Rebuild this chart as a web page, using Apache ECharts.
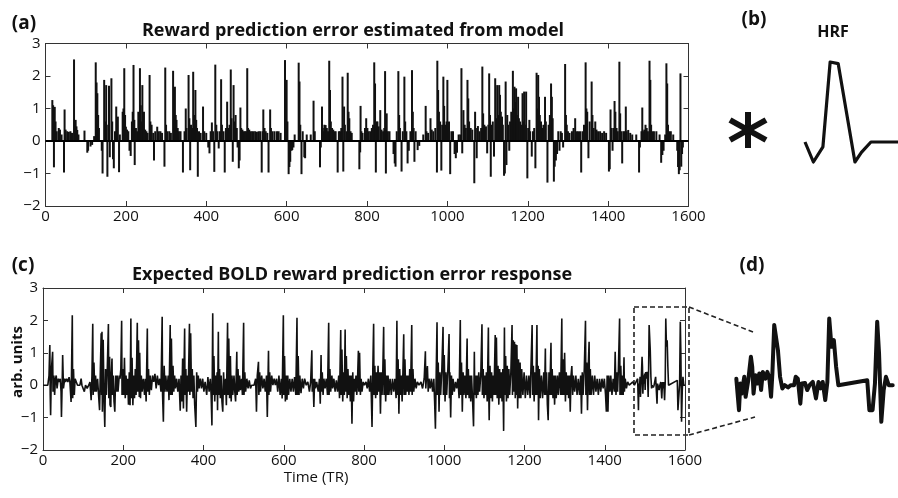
<!DOCTYPE html>
<html>
<head>
<meta charset="utf-8">
<script src="https://cdn.jsdelivr.net/npm/echarts@6/dist/echarts.min.js"></script>
<style>
html,body{margin:0;padding:0;background:#fff;}
#chart{width:898px;height:498px;}
</style>
</head>
<body>
<div id="chart"></div>
<script>
// ---- Data ----
// (a) reward prediction error: [TR, value]
const rpeData = [
[17,1.26],[19,1.1],[21,-0.81],[23,1.05],[25,0.6],[28,0.3],[33,0.4],[36,0.35],[40,0.2],[46,-0.97],[47.5,0.97],[50,0.35],[54,0.3],[58,0.28],[62,0.3],[66,0.25],[71,2.51],[73,0.6],[75,0.65],[77,0.45],[79,0.34],[82,0.2],[97,0.32],[104,-0.36],[106,-0.3],[112,-0.17],[116,-0.12],[121,0.15],[125,2.42],[127,1.8],[129,1.47],[131,0.8],[133,0.4],[140,-0.3],[142,-1.0],[146,1.88],[148,0.6],[151,1.72],[154,-1.1],[156,0.5],[158,1.7],[160,-0.5],[164,1.93],[166,0.6],[168,-0.56],[170,-0.84],[173,0.3],[176,1.06],[178,0.5],[180,0.75],[183,-0.96],[185,0.2],[192,0.9],[194,1.0],[196,2.24],[198,0.8],[200,0.44],[203,0.35],[206,0.3],[209,-0.3],[212,-0.46],[215,0.6],[217,0.9],[219,2.34],[221,0.65],[222,-0.74],[225,0.4],[228,0.3],[231,0.9],[233,0.7],[235,2.24],[237,1.1],[239,0.6],[241,1.72],[243,0.5],[245,0.9],[248,0.35],[251,0.3],[254,0.25],[259,2.03],[261,0.6],[264,0.5],[268,0.25],[270,-0.6],[273,0.3],[278,0.44],[282,0.3],[286,0.3],[290,0.25],[296,-0.79],[298,2.26],[300,0.5],[303,0.3],[308,0.3],[312,0.25],[317.5,2.16],[320,0.6],[322,1.67],[324,0.8],[326,0.65],[329,0.4],[332,0.3],[336,0.3],[342,-0.97],[346,0.3],[349,1.0],[351,0.4],[356,2.03],[358,0.7],[360,-0.9],[362,0.5],[365,0.4],[367.5,2.13],[370,0.8],[373,1.57],[375,0.65],[377,0.4],[379,-1.1],[382,0.3],[386,0.25],[392,1.06],[395,0.3],[400,0.25],[405,-0.2],[408,-0.38],[411,0.3],[414,0.57],[417,0.3],[420,-0.95],[422.5,2.35],[425,0.5],[428,0.3],[431,-0.23],[434,0.3],[437,1.9],[439,0.5],[443,0.3],[446,-0.97],[449,0.4],[452,1.21],[455,0.4],[458,0.5],[461,2.2],[463,0.7],[466,-0.64],[468,1.72],[470,0.6],[473,0.8],[476,0.4],[478,-0.2],[481,-0.84],[483,-0.6],[485,1.03],[487,0.4],[490,0.35],[493,0.3],[496,0.3],[499,0.3],[502,2.24],[504,0.4],[507,0.35],[510,0.3],
[514,0.3],[518,0.3],[522,0.3],[526,0.28],[530,0.3],[534,0.3],[538,-0.97],[540,0.3],[542,0.97],[545,0.4],[548,0.3],[552,0.25],[555,-0.97],[559,0.97],[561,0.4],[565,0.3],[570,0.3],[576,0.3],[580,0.3],[585,0.25],[596,2.49],[598,1.2],[600,1.88],[602,0.6],[605,-1.02],[607,-0.8],[609,-0.64],[612,-0.3],[614,-0.28],[617,-0.2],[620,0.2],[630,2.41],[632,1.83],[634,0.5],[637,-1.02],[640,0.3],[644,-0.5],[646,-0.53],[650,0.2],[660,0.2],[667,1.24],[670,0.3],[683,-0.81],[685,-0.2],[688,1.06],[690,0.4],[692,0.3],[694,0.5],[697,0.49],[700,0.4],[703,0.3],[706,2.47],[708,1.57],[710,0.6],[713,0.4],[716,0.35],[719,0.3],[722,0.3],[727,-0.97],[730,0.3],[733,0.3],[736,0.4],[739,1.98],[741,-0.94],[743,1.06],[745,0.5],[749,0.3],[752,2.1],[754,0.9],[756,0.7],[759,0.3],[762,0.25],[781,-0.87],[783,-0.35],[784,1.08],[786,0.3],[789,0.25],[795,0.4],[798,0.7],[801,0.4],[804,0.3],[808,0.3],[812,0.4],[815,0.5],[818,2.42],[820,1.77],[822,-0.97],[824,0.6],[826,0.6],[829,0.45],[833,0.95],[836,0.35],[840,0.3],[843,0.4],[845,2.15],[847,-1.0],[849,0.85],[852,0.3],[856,0.3],[866,-0.4],[869,-0.69],[871,-0.79],[874,0.3],[878,2.15],[880,0.8],[882,0.4],[886,-0.94],[889,0.3],[893,1.98],[895,0.6],[898,0.3],[901,-0.69],[904,-0.3],[908,0.3],[912,2.18],[914,0.9],[916,0.4],[918,-0.64],[921,0.3],[926,-0.28],[930,-0.15],[940,0.2],[946,1.08],[948,0.3],[952,0.25],[958,0.7],[961,0.35],[965,0.3],[970,0.4],[974,-0.97],[975,2.47],[977,1.57],[979,0.9],[982,0.6],[985,-0.91],[987,0.5],[990,1.98],[992,1.08],[995,0.5],[998,0.6],[1000,1.88],[1002,0.4],[1004,0.6],[1007,-1.02],[1010,0.3],[1014,0.3],[1018,-0.4],[1021,-0.53],[1024,-0.36],[1028,0.2],
[1032,0.2],[1035,2.24],[1037,-0.38],[1040,0.95],[1043,0.5],[1046,0.4],[1050,1.88],[1052,1.31],[1054,0.6],[1058,0.4],[1062,0.35],[1067,-1.3],[1069,0.9],[1071,0.4],[1073,-0.53],[1076,0.46],[1080,0.3],[1084,0.4],[1087,2.29],[1089,0.85],[1092,0.5],[1096,0.45],[1099,-0.38],[1102,0.5],[1104,2.08],[1106,0.8],[1108,-1.1],[1110,0.5],[1113,0.6],[1116,-0.48],[1119,1.93],[1121,0.7],[1124,1.72],[1126,0.8],[1129,1.72],[1131,1.42],[1133,0.9],[1136,0.75],[1138,0.5],[1141,-1.07],[1143,-1.0],[1145,1.83],[1147,-0.74],[1149,0.8],[1151,0.5],[1154,-0.3],[1156,0.6],[1159,0.9],[1163,2.16],[1165,1.0],[1167,1.67],[1169,1.2],[1171,1.62],[1173,0.8],[1176,1.36],[1178,0.7],[1181,0.6],[1184,0.5],[1187,1.47],[1189,0.6],[1191,1.52],[1193,0.5],[1196,1.52],[1199,-1.15],[1201,0.4],[1204,0.65],[1206,0.3],[1210,-0.48],[1213,0.3],[1216,0.4],[1219,-0.84],[1222,2.1],[1224,1.0],[1226,2.03],[1228,1.36],[1230,0.8],[1233,0.6],[1236,0.4],[1239,0.5],[1243,1.36],[1245,0.6],[1249,-1.28],[1252,0.5],[1255,0.8],[1258,1.77],[1260,1.36],[1262,0.7],[1265,-1.25],[1267,-0.79],[1270,-0.6],[1273,-0.4],[1276,0.3],[1279,-0.3],[1282,0.3],[1285,0.25],[1288,-0.2],[1293,2.37],[1295,0.8],[1297,0.5],[1300,0.3],[1304,0.25],[1310,0.3],[1314,0.4],[1318,0.7],[1321,0.3],[1325,0.3],[1330,0.3],[1333,-0.97],[1336,0.3],[1340,0.5],[1344,2.42],[1346,1.0],[1348,0.9],[1351,-0.53],[1354,0.6],[1359,1.83],[1361,0.8],[1364,0.4],[1368,0.6],[1371,0.35],[1375,0.3],[1380,0.3],[1385,0.25],[1390,0.3],[1395,0.25],[1402,-0.94],[1404,-0.87],[1406,0.97],[1408,0.4],[1411,-0.3],[1413,0.4],[1416,1.23],[1418,0.9],[1421,0.4],[1424,0.3],[1428,2.44],[1430,0.85],[1433,0.3],[1435,-0.69],[1438,0.3],[1441,0.3],[1444,1.06],[1446,0.3],[1450,0.34],[1455,0.25],[1460,0.2],[1470,0.2],[1477,-0.97],[1479,-0.2],[1483,0.3],[1485,1.03],[1487,0.3],[1490,0.35],[1493,0.5],[1496,0.4],[1499,0.3],[1503,2.47],[1505,1.88],[1507,0.5],[1510,0.3],[1514,0.3],[1520,0.3],[1528,0.2],[1532,-0.67],[1535,-0.43],[1538,-0.3],[1542,0.2],[1545,2.39],[1547,1.77],[1549,0.5],[1552,0.3],[1556,0.3],[1562,0.2],[1572,-0.3],[1574,-0.8],[1576,-1.02],[1578,-0.9],[1580,2.08],[1582,-0.79],[1584,-0.4],[1586,-0.2]
];

// (c)/(d) expected BOLD response: [TR, arb. units]
const boldData = [
[0,0],[12,0],[15,0.3],[17,1.24],[18,-0.3],[19,-0.93],[21,0.5],[24,1.03],[25,-0.2],[27,0.3],[29,-0.3],[31,0.2],[33,0.3],[35,-0.1],[38,0.2],[40,0.1],[43,0.2],[45,-0.2],[46,-0.98],[48,0.2],[49,0.93],[51,-0.1],[54,0.2],[56,0.1],[59,0.2],[62,0.1],[65,0.25],[67,0.1],[70,-0.52],[71,0.3],[73,2.16],[74,-0.4],[76,0.5],[78,-0.3],[80,0.2],[83,0.1],[86,0],[92,0],[95,0.2],[97,0],[100,-0.1],[103,-0.2],[106,0],[110,-0.1],[114,0],[117,0.1],[120,-0.46],[122,0.3],[124,1.9],[125,-0.3],[127,0.7],[129,-0.2],[131,0.3],[133,-0.2],[136,0.2],[139,-0.4],[141,-0.77],[143,0.5],[145,1.6],[146,-0.3],[147,1.65],[148,-0.82],[150,1.4],[152,-0.4],[154,-1.29],[156,0.5],[158,-0.3],[160,0.4],[163,1.89],[164,-0.4],[166,0.88],[167,-0.6],[169,-0.67],[170,0.3],[172,0.82],[173,-0.3],[175,0.3],[177,-0.5],[179,-0.82],[181,0.3],[183,-0.2],[185,0.3],[187,-0.2],[190,0.3],[192,0.2],[194,0.5],[196,1.99],[197,-0.3],[199,0.5],[201,-0.3],[203,0.85],[205,-0.4],[207,0.3],[209,-0.3],[211,0.2],[213,-0.6],[215,0.4],[217,-0.62],[219,2.06],[220,-0.4],[222,0.85],[224,-0.62],[226,0.3],[228,-0.4],[230,0.5],[232,-0.3],[235,1.93],[236,-0.2],[238,1.39],[240,-0.36],[241,1.0],[243,-0.4],[245,0.3],[247,-0.2],[250,0.2],[253,-0.3],[255,0.2],[257,-0.5],[260,1.75],[261,-0.2],[263,0.5],[265,-0.3],[267,0.3],[270,-0.15],[273,0.3],[276,0.1],[279,0.35],[282,-0.1],[285,0.3],[288,0],[291,0.2],[294,-0.2],[297,2.11],[298,-0.3],[300,-1.13],[302,0.6],[304,-0.2],[306,0.3],[309,-0.2],[312,0.3],[314,-0.46],[317,1.86],[318,-0.3],[320,1.44],[322,-0.3],[324,0.6],[326,-0.2],[328,0.3],[330,-0.1],[333,0.2],[336,-0.2],[339,0.2],[342,-0.79],[344,0.3],[346,-0.5],[348,0.82],[350,-0.72],[353,1.75],[354,-0.3],[356,0.5],[358,-0.82],[360,0.3],[362,-0.2],[365,1.9],[366,-0.3],[368,1.6],[370,-0.2],[372,0.5],[374,-0.4],[376,0.3],[378,-0.6],[381,-1.29],[383,0.4],[385,-0.2],[387,0.3],[389,-0.1],[392,0.2],[395,-0.1],[398,0.2],[401,-0.2],[404,0.1],[408,-0.3],[411,0.25],[414,-0.2],[417,0.2],[419,-0.3],[421,-1.24],[423,2.22],[424,-0.3],[426,0.9],[428,-0.5],[430,0.3],[432,-0.3],[434,0.4],[435,-0.77],[437,1.65],[438,-0.3],[440,0.5],[442,-0.4],[444,0.3],[446,-0.5],[448,-0.82],[450,0.4],[452,-0.3],[455,0.2],[457,-0.62],[460,1.93],[461,-0.3],[463,1.44],[465,-0.4],[467,0.9],[469,-0.5],[471,0.3],[473,-0.3],[476,0.3],[478,-0.2],[480,-0.5],[483,1.03],[484,-0.3],[486,0.5],[488,-0.2],[490,0.3],[492,-0.15],[495,0.2],[497,-0.3],[500,1.93],[501,-0.3],[503,0.4],[505,-0.2],[508,0.2],[511,-0.1],[514,0.15],[517,-0.1],[520,0],[526,0],[530,0.2],[532,-0.82],[534,0.3],[537,0.72],[538,-0.3],[540,0.4],[542,-0.2],[545,0.3],[548,-0.1],[551,0.2],[554,-0.2],[557,0.3],[559,-0.98],[562,1.06],[563,-0.3],[565,0.4],[567,-0.2],[570,0.3],[573,0],[576,0.2],[579,0],[582,0.2],[585,-0.2],[588,0.3],[591,-0.3],[594,0.2],[596,-0.41],[599,2.16],[600,-0.3],[602,0.9],[604,-0.5],[606,0.3],[608,-0.45],[610,0.3],[612,-0.3],[615,0.2],[618,-0.2],[621,0.2],[624,-0.2],[627,0.25],[630,-0.3],[633,2.08],[634,-0.3],[636,0.9],[638,-0.3],[640,0.3],[643,-0.25],[646,0.2],[649,-0.1],[652,0.2],[656,0],[660,0.1],[664,-0.2],[667,0.1],[670,1.08],[671,-0.2],[673,0.2],[675,-0.67],[677,0.2],[679,-0.1],[682,0.1],[686,-0.2],[689,0.2],[691,-0.57],[693,0.93],[694,-0.2],[696,0.4],[698,-0.3],[700,0.2],[703,-0.1],[706,0.2],[709,-0.3],[712,1.93],[713,-0.3],[715,0.5],[717,-0.2],[720,0.3],[722,-0.1],[725,0.2],[728,-0.2],[731,0.15],[734,-0.2],[737,0.3],[739,-0.4],[742,1.7],[743,-0.3],[745,1.1],[747,-0.5],[749,0.4],[751,-0.3],[753,1.72],[754,-0.2],[756,0.9],[758,-0.4],[760,0.5],[762,-0.3],[764,0.3],[766,-0.5],[768,0.3],[770,-1.19],[772,0.4],[774,-0.5],[776,0.2],[778,-0.2],[780,0.3],[782,-0.3],[784,0.2],[786,1.06],[787,-0.2],[789,1.0],[791,-0.3],[793,0.2],[795,-0.2],[798,0.1],[801,0],[805,0.1],[808,-0.1],[811,0.2],[814,-0.2],[817,0.3],[820,-1.29],[822,0.5],[824,1.9],[825,-0.3],[827,0.6],[829,-0.4],[831,0.4],[833,-0.3],[835,0.6],[837,-0.2],[839,0.4],[841,-0.88],[843,0.4],[845,-0.3],[847,0.5],[849,1.8],[850,-0.3],[852,0.8],[854,-0.5],[856,0.3],[858,-0.3],[860,0.3],[862,-0.3],[865,0.2],[868,-0.3],[871,0.2],[874,-0.2],[877,0.2],[880,-0.4],[882,1.99],[883,-0.3],[885,0.8],[887,-0.88],[889,0.5],[891,-0.3],[893,0.3],[895,-0.5],[897,0.4],[899,1.57],[900,-0.3],[902,0.8],[904,-0.3],[906,0.3],[908,-0.2],[910,0.3],[912,-0.3],[914,0.5],[916,-0.2],[919,1.86],[920,-0.3],[922,0.5],[924,-0.2],[927,0.2],[930,-0.1],[933,0.1],[937,0],[942,0.1],[946,-0.1],[950,0.2],[953,1.05],[954,-0.1],[956,0.3],[958,0.59],[960,-0.2],[962,0.2],[965,-0.1],[968,0.2],[971,-0.2],[974,0.2],[976,-0.5],[978,-1.34],[980,0.4],[982,1.94],[983,-0.3],[985,0.7],[987,-0.82],[989,0.4],[991,-0.3],[994,0.5],[997,1.8],[998,-0.3],[1000,0.93],[1002,-0.5],[1004,0.4],[1006,-0.3],[1009,0.5],[1012,1.58],[1013,-0.4],[1014,0.4],[1016,-1.0],[1018,0.3],[1020,-0.3],[1022,0.2],[1025,-0.2],[1028,0.1],[1031,-0.1],[1034,0.2],[1037,-0.4],[1040,2.01],[1041,-0.3],[1043,0.7],[1045,-0.82],[1047,0.4],[1049,-0.3],[1051,0.3],[1054,-0.4],[1057,1.44],[1058,-0.3],[1060,0.5],[1062,-0.4],[1064,0.3],[1066,-0.5],[1068,0.3],[1071,-0.6],[1073,-1.27],[1075,1.03],[1076,-0.3],[1078,0.3],[1080,-0.4],[1082,0.3],[1084,-0.3],[1086,0.4],[1088,-0.2],[1091,0.3],[1094,1.88],[1095,-0.3],[1097,0.5],[1099,-0.4],[1101,0.3],[1103,-0.3],[1105,0.4],[1107,-0.5],[1110,1.78],[1111,-0.3],[1112,-1.08],[1114,0.6],[1116,-0.4],[1118,0.4],[1120,-0.5],[1122,0.3],[1124,-0.3],[1127,1.55],[1128,-0.3],[1130,1.47],[1132,-0.4],[1134,0.6],[1136,-0.6],[1138,0.5],[1140,-0.4],[1142,0.4],[1144,-0.5],[1146,0.5],[1148,-1.41],[1150,1.78],[1151,-0.3],[1153,0.9],[1155,-0.5],[1157,0.6],[1159,-0.4],[1161,0.5],[1163,-0.3],[1166,0.4],[1169,1.86],[1170,-0.3],[1172,1.39],[1173,-0.2],[1175,1.34],[1177,-0.4],[1178,1.26],[1180,-0.3],[1181,1.24],[1183,-0.72],[1185,0.8],[1187,-0.4],[1189,0.7],[1191,-0.4],[1193,0.5],[1196,-0.3],[1199,0.4],[1202,-0.4],[1205,0.3],[1208,-0.3],[1211,0.3],[1214,-0.4],[1216,0.5],[1219,1.86],[1220,-0.3],[1222,0.6],[1224,-0.5],[1226,0.4],[1228,-0.3],[1231,1.86],[1232,-0.3],[1234,0.6],[1235,-1.08],[1237,0.5],[1239,-0.4],[1242,0.3],[1245,-0.4],[1248,0.4],[1250,-0.3],[1252,1.13],[1253,-0.3],[1255,0.4],[1257,-0.6],[1259,-1.08],[1261,0.4],[1263,-0.3],[1266,1.31],[1267,-0.3],[1269,0.5],[1271,-0.4],[1273,0.3],[1275,-0.6],[1277,0.3],[1279,-0.4],[1282,0.3],[1284,-0.3],[1287,0.4],[1290,-0.3],[1293,2.06],[1294,-0.3],[1296,0.8],[1298,-0.3],[1300,1.0],[1302,-0.5],[1304,0.4],[1306,-0.3],[1308,0.3],[1310,-0.4],[1312,0.3],[1314,-0.82],[1316,0.3],[1318,0.59],[1320,-0.3],[1322,0.3],[1325,-0.2],[1328,0.3],[1331,-0.3],[1334,0.2],[1337,-0.3],[1340,0.3],[1342,-0.88],[1344,0.4],[1346,-0.3],[1349,0.5],[1352,1.99],[1353,-0.3],[1355,0.7],[1357,-0.77],[1359,0.6],[1361,1.34],[1362,-0.3],[1364,0.5],[1366,-0.3],[1369,0.3],[1372,-0.3],[1375,0.3],[1378,-0.2],[1381,0.2],[1384,-0.3],[1387,0.2],[1390,-0.2],[1393,0.2],[1396,-0.1],[1399,0.2],[1402,-0.3],[1404,-0.82],[1406,0.3],[1408,-0.82],[1410,0.3],[1413,-0.2],[1415,0.3],[1418,-0.3],[1421,0.2],[1424,-0.2],[1426,1.03],[1428,-0.3],[1430,0.4],[1432,-0.2],[1434,0.5],[1437,2.06],[1438,-0.3],[1440,0.6],[1442,-0.3],[1444,0.3],[1446,-0.3],[1448,0.86],[1449,-0.2],[1451,0.2],[1454,-0.1],[1457,0.1],[1461,0],[1465,0],[1470,0.1],[1474,0],[1478,0.1],
[1482,0.2],[1484,-0.77],[1485,0.05],[1486,-0.26],[1488,0.26],[1489,-0.36],[1491,0.15],[1493,0.88],[1494,0.57],[1495,-0.26],[1496.5,0.31],[1498,0.05],[1499.3,0.36],[1500.7,-0.15],[1502,0.41],[1504,0.2],[1505.4,0.41],[1506.8,0.25],[1508.2,-0.36],[1509.2,0.36],[1510.6,1.86],[1512,1.9],[1513.4,1.08],[1515,0.26],[1516.7,-0.1],[1518.5,0],[1521,-0.07],[1523,0],[1525.6,0],[1526.8,0.26],[1528.4,0.2],[1530.3,-0.57],[1531.5,0.05],[1533.8,0.07],[1535.5,-0.15],[1537.3,0],[1539.7,0.1],[1542.1,-0.41],[1544,0.1],[1545.6,-0.1],[1547.2,0.1],[1549.1,-0.46],[1550.7,0.1],[1552.1,2.06],[1553.8,1.19],[1555.6,1.39],[1557.3,0.57],[1559,0],[1580.8,0.15],[1582.4,-0.77],[1584.8,-0.77],[1586.6,0.05],[1588.3,1.96],[1589.7,0.98],[1591.4,-1.13],[1593.2,-0.15],[1594.9,0.26],[1597,0],[1600,0]
];

// (b) haemodynamic response function
const hrfTime  = [0, 2.2, 4.7, 6.6, 8.7, 13.1, 14.8, 17.3, 24.4];
const hrfValue = [0, -0.25, -0.06, 1.0, 0.98, -0.25, -0.13, 0, 0];

// axis ticks
const xMin = 0, xMax = 1600, xStep = 200;
const yMin = -2, yMax = 3, yStep = 1;
const zoomStart = 1482;

// ---- Chart ----
const FONT = 'Open Sans';
const axisCol = '#333';
const minusFmt = v => String(v).replace('-', '\u2212');
const plainFmt = v => String(v);

function frameX(grid, pos, labels) {
  return {
    type: 'value', gridIndex: grid, position: pos, min: xMin, max: xMax, interval: xStep,
    axisLine: {show: true, onZero: false, lineStyle: {color: axisCol, width: 1}},
    axisTick: {show: true, inside: true, length: 5, lineStyle: {color: axisCol}},
    splitLine: {show: false},
    axisLabel: {show: labels, color: '#111', fontSize: 15, fontFamily: FONT, margin: 3, formatter: plainFmt}
  };
}
function frameY(grid, pos, labels) {
  return {
    type: 'value', gridIndex: grid, position: pos, min: yMin, max: yMax, interval: yStep,
    axisLine: {show: true, onZero: false, lineStyle: {color: axisCol, width: 1}},
    axisTick: {show: true, inside: true, length: 5, lineStyle: {color: axisCol}},
    splitLine: {show: false},
    axisLabel: {show: labels, color: '#111', fontSize: 15, fontFamily: FONT, margin: 5, formatter: minusFmt}
  };
}

const chart = echarts.init(document.getElementById('chart'), null, {renderer: 'canvas'});

const hrfData = hrfTime.map((t, i) => [t, hrfValue[i]]);
const zoomData = boldData.filter(p => p[0] >= zoomStart);

const txt = (x, y, s, size, weight, extra) => Object.assign({
  type: 'text', x: x, y: y, silent: true,
  style: {text: s, fill: '#111', font: `${weight} ${size}px "${FONT}"`, textAlign: 'center', textVerticalAlign: 'middle'}
}, extra || {});

const dash = {stroke: '#222', lineWidth: 1.6, lineDash: [5, 3], fill: null};

chart.setOption({
  animation: false,
  backgroundColor: '#fff',
  grid: [
    {left: 45.5, top: 43.5, width: 643, height: 162.5},
    {left: 43, top: 288, width: 642, height: 162},
    {left: 735, top: 288, width: 175, height: 162},
    {left: 805, top: 62, width: 94, height: 100}
  ],
  xAxis: [
    frameX(0, 'bottom', true), frameX(0, 'top', false),
    frameX(1, 'bottom', true), frameX(1, 'top', false),
    {type: 'value', gridIndex: 2, min: zoomStart - 1, max: zoomStart - 1 + 123, show: false},
    {type: 'value', gridIndex: 3, min: 0, max: 24.4, show: false}
  ],
  yAxis: [
    frameY(0, 'left', true), frameY(0, 'right', false),
    frameY(1, 'left', true), frameY(1, 'right', false),
    {type: 'value', gridIndex: 2, min: yMin, max: yMax, show: false},
    {type: 'value', gridIndex: 3, min: -0.25, max: 1, show: false}
  ],
  series: [
    {
      type: 'bar', xAxisIndex: 0, yAxisIndex: 0, data: rpeData,
      barWidth: 2, itemStyle: {color: '#111'}, silent: true,
      markLine: {symbol: 'none', silent: true, label: {show: false},
        lineStyle: {color: '#000', width: 2, type: 'solid'}, data: [{yAxis: 0}]}
    },
    {
      type: 'line', xAxisIndex: 2, yAxisIndex: 2, data: boldData,
      symbol: 'none', lineStyle: {color: '#111', width: 1.6}, clip: true
    },
    {
      type: 'line', xAxisIndex: 4, yAxisIndex: 4, data: zoomData,
      symbol: 'none', lineStyle: {color: '#111', width: 4, join: 'round', cap: 'round'}, clip: false
    },
    {
      type: 'line', xAxisIndex: 5, yAxisIndex: 5, data: hrfData,
      symbol: 'none', lineStyle: {color: '#111', width: 3.2, join: 'round'}, clip: false
    }
  ],
  graphic: [
    txt(24, 24, '(a)', 19, 'bold'),
    txt(353, 31, 'Reward prediction error estimated from model', 18, 'bold'),
    txt(754, 20, '(b)', 19, 'bold'),
    txt(833, 32, 'HRF', 16, 'bold'),
    txt(23, 266, '(c)', 19, 'bold'),
    txt(352, 275, 'Expected BOLD reward prediction error response', 18, 'bold'),
    txt(752, 266, '(d)', 19, 'bold'),
    txt(316, 478, 'Time (TR)', 15, 'normal'),
    txt(18, 362, 'arb. units', 15, 'bold', {rotation: Math.PI / 2}),
    // convolution asterisk
    {type: 'group', x: 748, y: 130, silent: true, children: [
      {type: 'line', shape: {x1: 0, y1: -18, x2: 0, y2: 18}, style: {stroke: '#111', lineWidth: 6}},
      {type: 'line', shape: {x1: -18, y1: -10, x2: 18, y2: 10}, style: {stroke: '#111', lineWidth: 6}},
      {type: 'line', shape: {x1: -18, y1: 10, x2: 18, y2: -10}, style: {stroke: '#111', lineWidth: 6}}
    ]},
    // zoom box and connectors
    {type: 'rect', silent: true, shape: {x: 634, y: 307, width: 55, height: 128}, style: dash},
    {type: 'line', silent: true, shape: {x1: 689, y1: 307, x2: 753, y2: 332}, style: dash},
    {type: 'line', silent: true, shape: {x1: 689, y1: 435, x2: 755, y2: 417}, style: dash}
  ]
});
</script>
</body>
</html>
